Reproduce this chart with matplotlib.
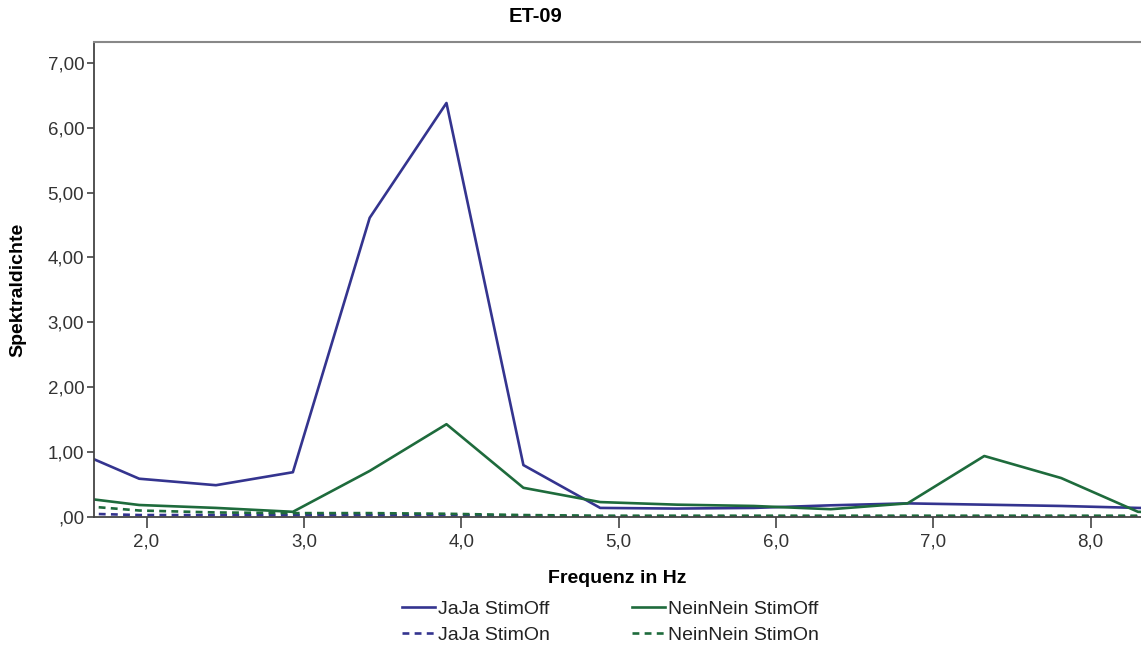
import numpy as np
import matplotlib
matplotlib.use('Agg')
import matplotlib.pyplot as plt
from matplotlib.ticker import FuncFormatter

plt.rcParams['font.family'] = ['Liberation Sans', 'DejaVu Sans']

# frequency bins (Hz)
freq = [1.465, 1.953, 2.441, 2.930, 3.418, 3.906, 4.395, 4.883,
        5.371, 5.859, 6.348, 6.836, 7.324, 7.813, 8.301, 8.789]

# spectral density per condition
jaja_off = [1.10, 0.59, 0.49, 0.69, 4.61, 6.38, 0.80, 0.14,
            0.13, 0.14, 0.18, 0.21, 0.19, 0.17, 0.14, 0.12]
nein_off = [0.33, 0.185, 0.14, 0.08, 0.71, 1.43, 0.45, 0.23,
            0.19, 0.17, 0.12, 0.21, 0.94, 0.60, 0.08, 0.05]
jaja_on = [0.06, 0.03, 0.03, 0.03, 0.03, 0.03, 0.02, 0.01,
           0.01, 0.01, 0.01, 0.01, 0.01, 0.01, 0.01, 0.01]
nein_on = [0.195, 0.10, 0.07, 0.06, 0.06, 0.05, 0.03, 0.02,
           0.02, 0.02, 0.02, 0.02, 0.02, 0.02, 0.02, 0.02]

navy = '#34348f'
green = '#1e6b3c'
dash = (0, (2.6, 2.0))

fig = plt.figure(figsize=(11.41, 6.46), dpi=100)
ax = fig.add_axes([94/1141, 1 - 517/646, 1 - 94/1141, (517 - 42)/646])

l1, = ax.plot(freq, jaja_off, color=navy, lw=1.9, label='JaJa StimOff')
l2, = ax.plot(freq, nein_off, color=green, lw=1.9, label='NeinNein StimOff')
l3, = ax.plot(freq, jaja_on, color=navy, lw=1.9, ls=dash, label='JaJa StimOn')
l4, = ax.plot(freq, nein_on, color=green, lw=1.9, ls=dash, label='NeinNein StimOn')

ax.set_xlim(1.666, 8.32)
ax.set_ylim(0, 7.32)
ax.set_xticks([2, 3, 4, 5, 6, 7, 8])
ax.set_yticks([0, 1, 2, 3, 4, 5, 6, 7])

def yfmt(v, pos):
    s = f'{v:.2f}'.replace('.', ',')
    return s[1:] if s.startswith('0') else s

ax.yaxis.set_major_formatter(FuncFormatter(yfmt))
ax.xaxis.set_major_formatter(FuncFormatter(lambda v, p: f'{v:.1f}'.replace('.', ',')))

for side in ['left', 'bottom']:
    ax.spines[side].set_color('#444444')
    ax.spines[side].set_linewidth(1.3)
ax.spines['top'].set_color('#888888')
ax.spines['top'].set_linewidth(1.5)
ax.spines['right'].set_visible(False)

ax.tick_params(axis='y', length=5, width=1.2, color='#444444', labelsize=13.5,
               labelcolor='#333333', pad=2)
ax.tick_params(axis='x', length=8, width=1.2, color='#444444', labelsize=13.5,
               labelcolor='#333333', pad=4)

ax.set_xlabel('Frequenz in Hz', fontsize=14, fontweight='bold', labelpad=14)
fig.text(18/1141, 1 - 290/646, 'Spektraldichte', rotation=90, fontsize=14,
         fontweight='bold', ha='center', va='center')
fig.text(535/1141, 1 - 17/646, 'ET-09', fontsize=14.5, fontweight='bold',
         ha='center', va='center')

fig.legend(handles=[l1, l3, l2, l4], ncol=2, loc='center',
           bbox_to_anchor=(0.535, 1 - 622/646), frameon=False, fontsize=14,
           handlelength=1.7, handletextpad=0.15, columnspacing=4.2,
           labelspacing=0.4, borderpad=0, labelcolor='#222222')

fig.savefig('out.png', dpi=100)
